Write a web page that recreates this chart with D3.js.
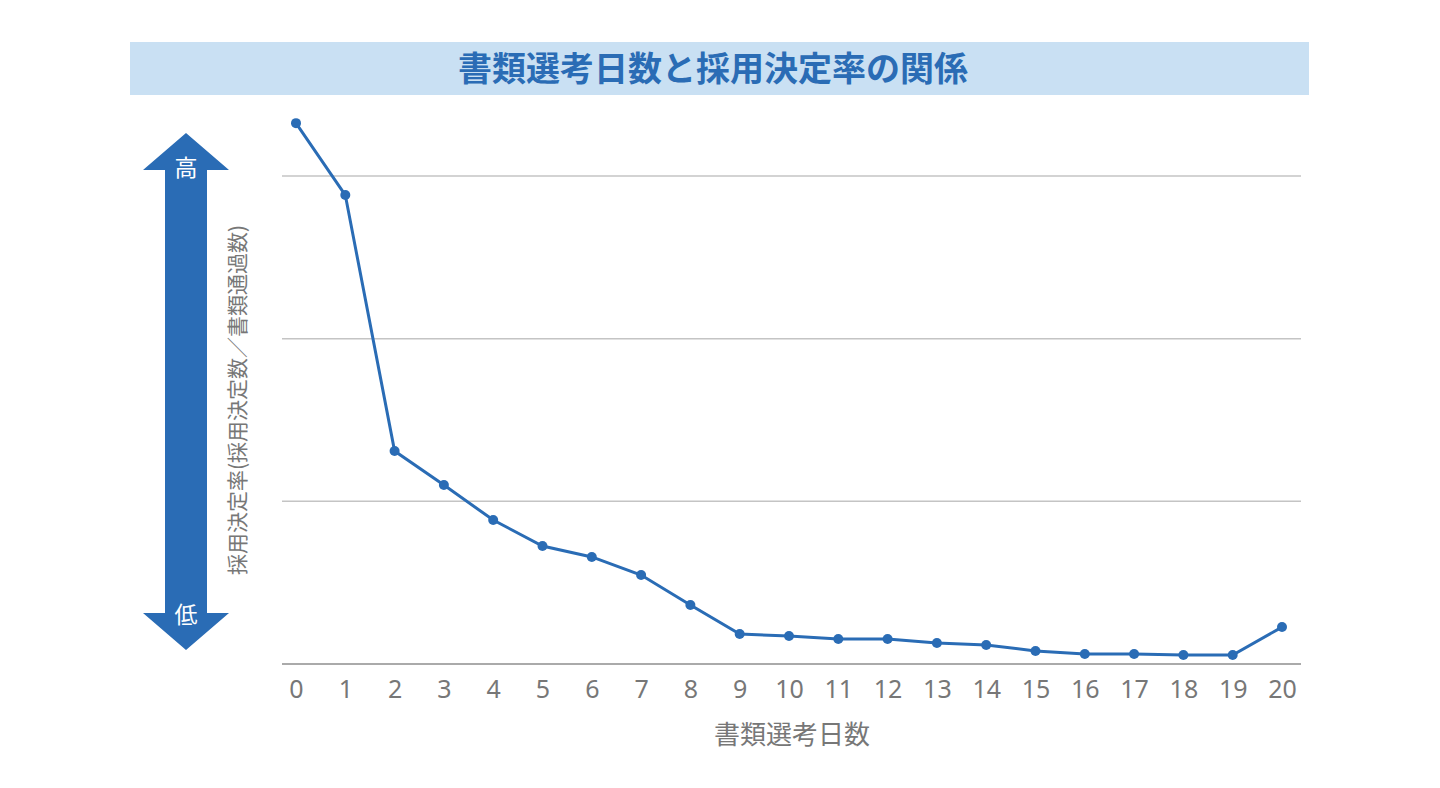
<!DOCTYPE html><html><head><meta charset="utf-8"><script src="https://cdn.jsdelivr.net/npm/d3@7"></script>
<style>body{margin:0;background:#fff}svg{display:block}text{font-family:"Noto Sans CJK JP","Noto Sans",sans-serif}</style></head><body>
<script>
const days=d3.range(0,21);
const rates=[3.325,2.883,1.309,1.100,0.885,0.725,0.658,0.547,0.363,0.184,0.172,0.154,0.154,0.129,0.117,0.080,0.061,0.061,0.055,0.055,0.227];
const gridVals=[0,1,2,3];
const svg=d3.select("body").append("svg").attr("width",1440).attr("height",788);
svg.append("rect").attr("x",130).attr("y",42).attr("width",1179).attr("height",53).attr("fill","#c9e0f3");
svg.append("text").attr("x",713).attr("y",81).attr("text-anchor","middle").attr("font-size",34).attr("font-weight","bold").attr("fill","#2a6cb5").text("書類選考日数と採用決定率の関係");
const x=d3.scaleLinear().domain([0,20]).range([296,1282]);
const y=d3.scaleLinear().domain([0,3]).range([664,176]);
svg.selectAll(".g").data(gridVals).enter().append("line").attr("x1",282).attr("x2",1301).attr("y1",d=>y(d)).attr("y2",d=>y(d)).attr("stroke",d=>d===0?"#aaa":"#c4c4c4").attr("stroke-width",d=>d===0?2:1.5);
const xa=svg.append("g").attr("transform","translate(0,664)").call(d3.axisBottom(x).tickValues(days).tickSize(0).tickPadding(16).tickFormat(d3.format("d")));
xa.select(".domain").remove();
xa.selectAll("text").attr("font-size",25).attr("fill","#777").style("font-family","'Noto Sans',sans-serif");
svg.append("path").datum(rates).attr("fill","none").attr("stroke","#2a6cb5").attr("stroke-width",3).attr("d",d3.line().x((d,i)=>x(days[i])).y(d=>y(d)));
svg.selectAll(".p").data(rates).enter().append("circle").attr("cx",(d,i)=>x(days[i])).attr("cy",d=>y(d)).attr("r",5).attr("fill","#2a6cb5");
svg.append("text").attr("x",792).attr("y",744).attr("text-anchor","middle").attr("font-size",26).attr("fill","#777").text("書類選考日数");
svg.append("path").attr("d","M186,133 L229,170 L207,170 L207,613 L229,613 L186,650 L143,613 L165,613 L165,170 L143,170 Z").attr("fill","#2a6cb5");
svg.append("text").attr("x",186).attr("y",176).attr("text-anchor","middle").attr("font-size",23).attr("fill","#fff").text("高");
svg.append("text").attr("x",186).attr("y",623).attr("text-anchor","middle").attr("font-size",23).attr("fill","#fff").text("低");
svg.append("text").attr("transform","translate(245,400) rotate(-90)").attr("text-anchor","middle").attr("font-size",21).attr("fill","#777").text("採用決定率(採用決定数／書類通過数)");
</script></body></html>
